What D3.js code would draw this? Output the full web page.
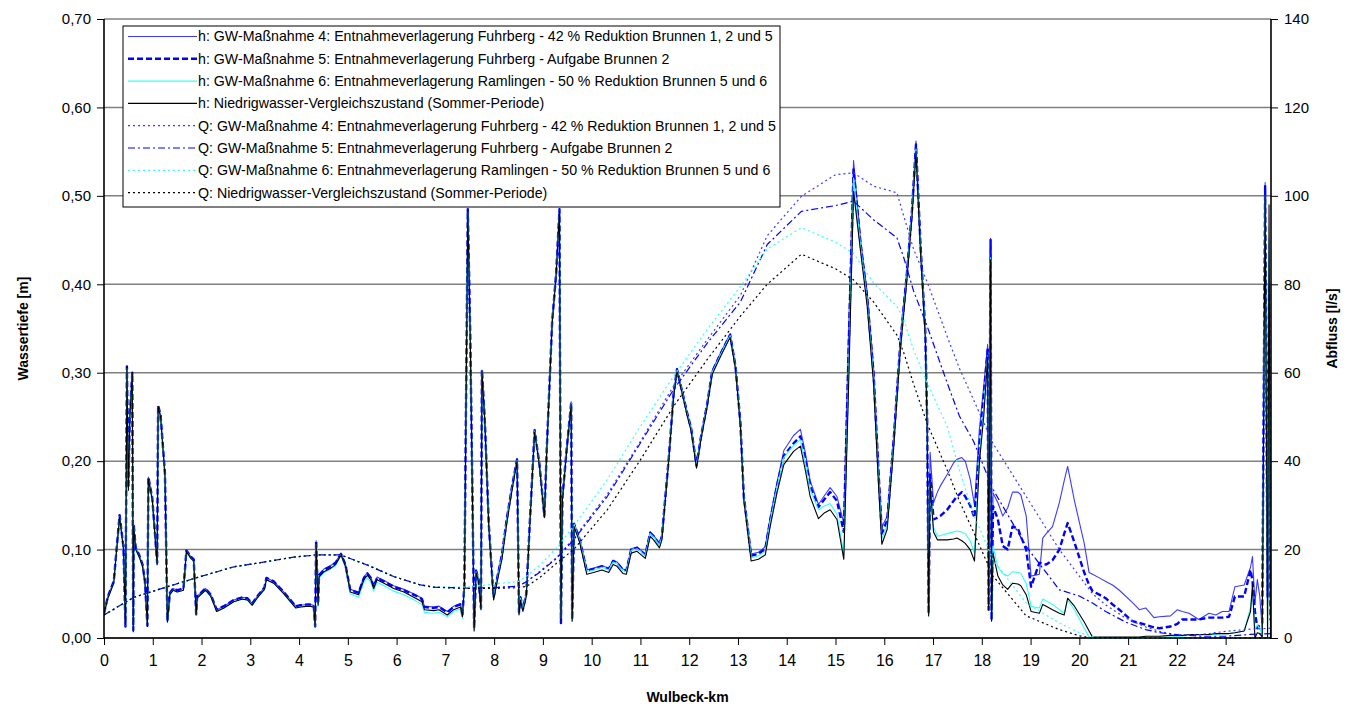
<!DOCTYPE html>
<html>
<head>
<meta charset="utf-8">
<script src="https://cdn.jsdelivr.net/npm/d3@7"></script>
<style>
  body { margin: 0; background: #fff; }
  svg { display: block; font-family: Arial, "Liberation Sans", sans-serif; }
</style>
</head>
<body>
<div id="chart"></div>
<script>
// x tick positions and their labels (the original axis skips "23")
const xTickPos = d3.range(0, 24);
const xTickLabels = ["0","1","2","3","4","5","6","7","8","9","10","11","12","13","14","15","16","17","18","19","20","21","22","24"];
const yTicksLeft = [0, 0.1, 0.2, 0.3, 0.4, 0.5, 0.6, 0.7];
const yTicksRight = [0, 20, 40, 60, 80, 100, 120, 140];

// station positions for water depth series
const hKm = [
  0, 0.08, 0.2, 0.32, 0.4, 0.44, 0.47, 0.5, 0.53, 0.58,
  0.6, 0.61, 0.65, 0.72, 0.79, 0.84, 0.89, 0.91, 0.99, 1.09,
  1.11, 1.16, 1.25, 1.3, 1.35, 1.42, 1.5, 1.63, 1.69, 1.78,
  1.84, 1.89, 1.91, 2.08, 2.19, 2.31, 2.46, 2.66, 2.84, 2.94,
  3.04, 3.14, 3.29, 3.33, 3.48, 3.67, 3.93, 4.03, 4.2, 4.3,
  4.33, 4.35, 4.39, 4.41, 4.51, 4.65, 4.75, 4.86, 4.95, 5.05,
  5.22, 5.33, 5.4, 5.47, 5.53, 5.6, 5.74, 5.94, 6.15, 6.39,
  6.52, 6.57, 6.76, 6.87, 7.04, 7.17, 7.31, 7.35, 7.39, 7.46,
  7.51, 7.56, 7.59, 7.63, 7.68, 7.73, 7.75, 7.81, 7.89, 7.97,
  7.99, 8.07, 8.16, 8.26, 8.37, 8.47, 8.51, 8.54, 8.59, 8.66,
  8.73, 8.83, 8.93, 9.03, 9.08, 9.19, 9.27, 9.34, 9.37, 9.40,
  9.49, 9.58, 9.60, 9.64, 9.75, 9.90, 10.04, 10.21, 10.35, 10.44,
  10.52, 10.64, 10.71, 10.81, 10.93, 11.10, 11.20, 11.27, 11.39, 11.44,
  11.58, 11.68, 11.75, 11.82, 11.96, 12.04, 12.15, 12.24, 12.37, 12.47,
  12.64, 12.84, 12.95, 13.05, 13.12, 13.27, 13.42, 13.56, 13.66, 13.80,
  13.94, 14.14, 14.28, 14.38, 14.48, 14.65, 14.76, 14.89, 15.03, 15.17,
  15.27, 15.37, 15.51, 15.65, 15.78, 15.88, 15.95, 16.06, 16.19, 16.33,
  16.47, 16.57, 16.65, 16.74, 16.84, 16.88, 16.91, 16.94, 17.01, 17.09,
  17.15, 17.29, 17.42, 17.49, 17.59, 17.66, 17.76, 17.85, 17.95, 18.04,
  18.12, 18.14, 18.18, 18.20, 18.23, 18.33, 18.43, 18.53, 18.63, 18.74,
  18.80, 18.91, 19.01, 19.18, 19.25, 19.32, 19.45, 19.59, 19.69, 19.76,
  19.90, 20.10, 20.20, 20.27, 20.41, 20.54, 20.68, 20.82, 21.09, 21.23,
  21.36, 21.53, 21.64, 21.87, 22.01, 22.11, 22.25, 22.45, 22.66, 22.80,
  22.93, 23.07, 23.19, 23.38, 23.51, 23.55, 23.60, 23.65, 23.70, 23.75,
  23.81, 23.86, 23.89, 23.92
];

// h: GW-Massnahme 4
const h4 = [
  0.028, 0.047, 0.064, 0.139, 0.102, 0.016, 0.305, 0.170, 0.252, 0.298,
  0.010, 0.128, 0.102, 0.094, 0.083, 0.064, 0.014, 0.182, 0.158, 0.085,
  0.262, 0.252, 0.186, 0.020, 0.051, 0.056, 0.054, 0.056, 0.099, 0.092,
  0.089, 0.028, 0.047, 0.056, 0.049, 0.032, 0.036, 0.043, 0.046, 0.045,
  0.039, 0.047, 0.057, 0.068, 0.064, 0.053, 0.036, 0.037, 0.038, 0.037,
  0.014, 0.110, 0.039, 0.072, 0.078, 0.082, 0.086, 0.096, 0.084, 0.055,
  0.052, 0.069, 0.074, 0.069, 0.059, 0.069, 0.065, 0.059, 0.055, 0.049,
  0.045, 0.036, 0.035, 0.036, 0.030, 0.036, 0.039, 0.026, 0.061, 0.485,
  0.345, 0.142, 0.012, 0.077, 0.067, 0.035, 0.303, 0.246, 0.130, 0.062,
  0.047, 0.071, 0.095, 0.136, 0.173, 0.203, 0.030, 0.047, 0.034, 0.051,
  0.130, 0.236, 0.197, 0.139, 0.216, 0.359, 0.412, 0.485, 0.025, 0.160,
  0.216, 0.267, 0.022, 0.130, 0.113, 0.077, 0.079, 0.082, 0.079, 0.088,
  0.086, 0.078, 0.077, 0.101, 0.103, 0.095, 0.120, 0.116, 0.107, 0.116,
  0.204, 0.277, 0.305, 0.288, 0.255, 0.238, 0.196, 0.228, 0.266, 0.302,
  0.322, 0.344, 0.308, 0.244, 0.162, 0.095, 0.097, 0.103, 0.136, 0.176,
  0.212, 0.229, 0.236, 0.210, 0.178, 0.151, 0.160, 0.170, 0.160, 0.130,
  0.350, 0.540, 0.452, 0.390, 0.305, 0.195, 0.125, 0.138, 0.226, 0.338,
  0.420, 0.488, 0.562, 0.452, 0.352, 0.250, 0.030, 0.210, 0.153, 0.165,
  0.172, 0.185, 0.198, 0.202, 0.204, 0.200, 0.180, 0.150, 0.236, 0.285,
  0.332, 0.032, 0.452, 0.021, 0.164, 0.153, 0.138, 0.147, 0.165, 0.165,
  0.162, 0.138, 0.070, 0.072, 0.113, 0.118, 0.126, 0.153, 0.178, 0.194,
  0.155, 0.107, 0.074, 0.072, 0.068, 0.064, 0.060, 0.054, 0.040, 0.032,
  0.034, 0.023, 0.024, 0.025, 0.032, 0.030, 0.028, 0.021, 0.028, 0.026,
  0.030, 0.030, 0.058, 0.060, 0.080, 0.092, 0.040, 0.066, 0.047, 0.009,
  0.515, 0.040, 0.300, 0.020
];

// h: GW-Massnahme 5
const h5 = [
  0.028, 0.047, 0.064, 0.139, 0.102, 0.013, 0.307, 0.170, 0.252, 0.300,
  0.009, 0.128, 0.102, 0.094, 0.083, 0.064, 0.014, 0.182, 0.158, 0.085,
  0.263, 0.252, 0.186, 0.019, 0.051, 0.056, 0.054, 0.056, 0.099, 0.092,
  0.089, 0.027, 0.047, 0.056, 0.049, 0.032, 0.036, 0.043, 0.046, 0.045,
  0.039, 0.047, 0.057, 0.068, 0.064, 0.053, 0.036, 0.037, 0.038, 0.037,
  0.013, 0.110, 0.039, 0.071, 0.077, 0.081, 0.085, 0.095, 0.083, 0.054,
  0.051, 0.068, 0.073, 0.068, 0.058, 0.068, 0.064, 0.058, 0.054, 0.048,
  0.044, 0.035, 0.034, 0.035, 0.029, 0.035, 0.038, 0.025, 0.060, 0.485,
  0.344, 0.141, 0.011, 0.076, 0.066, 0.034, 0.303, 0.245, 0.129, 0.061,
  0.046, 0.070, 0.094, 0.135, 0.172, 0.202, 0.029, 0.046, 0.033, 0.050,
  0.129, 0.235, 0.196, 0.138, 0.215, 0.358, 0.411, 0.485, 0.017, 0.159,
  0.215, 0.266, 0.021, 0.129, 0.112, 0.076, 0.078, 0.081, 0.078, 0.087,
  0.085, 0.077, 0.076, 0.100, 0.102, 0.094, 0.119, 0.115, 0.106, 0.115,
  0.203, 0.276, 0.304, 0.287, 0.254, 0.237, 0.195, 0.227, 0.265, 0.301,
  0.321, 0.343, 0.307, 0.243, 0.160, 0.093, 0.095, 0.101, 0.133, 0.172,
  0.206, 0.220, 0.228, 0.203, 0.172, 0.148, 0.156, 0.165, 0.155, 0.120,
  0.330, 0.530, 0.448, 0.385, 0.300, 0.190, 0.118, 0.133, 0.222, 0.334,
  0.416, 0.485, 0.558, 0.448, 0.348, 0.245, 0.028, 0.185, 0.134, 0.136,
  0.138, 0.145, 0.155, 0.160, 0.165, 0.160, 0.150, 0.136, 0.217, 0.275,
  0.326, 0.032, 0.450, 0.020, 0.149, 0.134, 0.104, 0.100, 0.126, 0.124,
  0.115, 0.100, 0.058, 0.085, 0.084, 0.083, 0.088, 0.100, 0.118, 0.130,
  0.108, 0.074, 0.060, 0.053, 0.049, 0.045, 0.038, 0.032, 0.019, 0.017,
  0.015, 0.012, 0.011, 0.013, 0.016, 0.021, 0.021, 0.021, 0.023, 0.023,
  0.023, 0.024, 0.047, 0.047, 0.077, 0.065, 0.030, 0.011, 0.015, 0.017,
  0.511, 0.047, 0.400, 0.020
];

// h: GW-Massnahme 6
const h6 = [
  0.027, 0.045, 0.062, 0.137, 0.100, 0.015, 0.305, 0.167, 0.250, 0.299,
  0.008, 0.126, 0.100, 0.092, 0.081, 0.062, 0.013, 0.180, 0.156, 0.083,
  0.261, 0.250, 0.183, 0.018, 0.049, 0.054, 0.052, 0.054, 0.098, 0.090,
  0.087, 0.026, 0.045, 0.054, 0.047, 0.030, 0.034, 0.041, 0.044, 0.043,
  0.037, 0.045, 0.055, 0.066, 0.062, 0.051, 0.034, 0.035, 0.036, 0.035,
  0.013, 0.106, 0.036, 0.068, 0.074, 0.078, 0.082, 0.093, 0.080, 0.050,
  0.046, 0.063, 0.068, 0.063, 0.053, 0.063, 0.059, 0.053, 0.049, 0.042,
  0.038, 0.029, 0.028, 0.029, 0.024, 0.030, 0.033, 0.022, 0.057, 0.482,
  0.342, 0.140, 0.010, 0.075, 0.065, 0.033, 0.302, 0.244, 0.128, 0.060,
  0.045, 0.068, 0.092, 0.133, 0.170, 0.201, 0.028, 0.045, 0.032, 0.049,
  0.128, 0.234, 0.195, 0.137, 0.214, 0.357, 0.410, 0.483, 0.022, 0.158,
  0.214, 0.265, 0.020, 0.128, 0.111, 0.075, 0.077, 0.080, 0.077, 0.086,
  0.084, 0.076, 0.075, 0.099, 0.101, 0.093, 0.118, 0.114, 0.105, 0.114,
  0.202, 0.275, 0.303, 0.287, 0.253, 0.236, 0.194, 0.226, 0.264, 0.300,
  0.320, 0.342, 0.306, 0.241, 0.159, 0.091, 0.093, 0.098, 0.131, 0.170,
  0.204, 0.218, 0.224, 0.198, 0.168, 0.145, 0.149, 0.152, 0.140, 0.095,
  0.300, 0.520, 0.445, 0.380, 0.294, 0.182, 0.112, 0.128, 0.218, 0.330,
  0.413, 0.482, 0.553, 0.443, 0.345, 0.238, 0.026, 0.175, 0.125, 0.115,
  0.116, 0.118, 0.120, 0.121, 0.120, 0.118, 0.110, 0.096, 0.205, 0.260,
  0.319, 0.032, 0.430, 0.020, 0.104, 0.080, 0.073, 0.070, 0.075, 0.074,
  0.073, 0.062, 0.036, 0.034, 0.044, 0.042, 0.038, 0.032, 0.028, 0.043,
  0.032, 0.011, 0.001, 0.000, 0.000, 0.000, 0.000, 0.000, 0.000, 0.000,
  0.000, 0.000, 0.001, 0.001, 0.002, 0.002, 0.003, 0.003, 0.004, 0.004,
  0.005, 0.005, 0.006, 0.008, 0.035, 0.055, 0.010, 0.015, 0.010, 0.003,
  0.500, 0.000, 0.450, 0.000
];

// h: Niedrigwasser-Vergleichszustand
const h0 = [
  0.027, 0.045, 0.062, 0.137, 0.100, 0.015, 0.307, 0.167, 0.250, 0.300,
  0.007, 0.126, 0.100, 0.092, 0.081, 0.062, 0.013, 0.180, 0.156, 0.083,
  0.262, 0.250, 0.183, 0.018, 0.049, 0.054, 0.052, 0.054, 0.098, 0.090,
  0.087, 0.026, 0.045, 0.054, 0.047, 0.030, 0.034, 0.041, 0.044, 0.043,
  0.037, 0.045, 0.055, 0.066, 0.062, 0.051, 0.034, 0.035, 0.036, 0.035,
  0.013, 0.107, 0.037, 0.069, 0.075, 0.079, 0.083, 0.094, 0.081, 0.052,
  0.049, 0.066, 0.071, 0.066, 0.056, 0.066, 0.062, 0.056, 0.052, 0.045,
  0.041, 0.032, 0.031, 0.032, 0.026, 0.032, 0.035, 0.024, 0.058, 0.483,
  0.341, 0.138, 0.008, 0.074, 0.064, 0.032, 0.302, 0.243, 0.126, 0.058,
  0.043, 0.066, 0.089, 0.130, 0.168, 0.200, 0.026, 0.043, 0.030, 0.047,
  0.126, 0.233, 0.194, 0.136, 0.213, 0.356, 0.409, 0.483, 0.021, 0.156,
  0.213, 0.264, 0.019, 0.126, 0.109, 0.072, 0.074, 0.077, 0.074, 0.083,
  0.081, 0.073, 0.072, 0.096, 0.098, 0.090, 0.115, 0.111, 0.102, 0.111,
  0.200, 0.273, 0.302, 0.285, 0.251, 0.234, 0.192, 0.224, 0.262, 0.298,
  0.318, 0.340, 0.304, 0.239, 0.156, 0.087, 0.089, 0.094, 0.126, 0.164,
  0.196, 0.211, 0.217, 0.190, 0.160, 0.135, 0.141, 0.145, 0.134, 0.089,
  0.288, 0.505, 0.439, 0.375, 0.288, 0.175, 0.106, 0.123, 0.213, 0.326,
  0.409, 0.477, 0.550, 0.439, 0.341, 0.232, 0.025, 0.175, 0.120, 0.111,
  0.111, 0.111, 0.112, 0.113, 0.110, 0.107, 0.100, 0.087, 0.198, 0.251,
  0.318, 0.032, 0.428, 0.019, 0.096, 0.070, 0.060, 0.055, 0.062, 0.061,
  0.059, 0.049, 0.030, 0.028, 0.038, 0.036, 0.032, 0.028, 0.026, 0.045,
  0.036, 0.018, 0.008, 0.001, 0.001, 0.001, 0.001, 0.001, 0.001, 0.001,
  0.002, 0.002, 0.002, 0.003, 0.003, 0.003, 0.004, 0.004, 0.004, 0.005,
  0.005, 0.005, 0.006, 0.008, 0.030, 0.060, 0.000, 0.006, 0.005, 0.001,
  0.500, 0.000, 0.490, 0.000
];

// station positions for discharge series
const qKm = [
  0, 0.61, 1.3, 1.98, 2.66, 3.35, 3.89, 4.37, 4.85, 5.4,
  5.94, 6.49, 6.76, 7.44, 8.0, 8.5, 8.67, 8.95, 9.29, 9.63,
  10.32, 11.0, 11.68, 12.37, 13.05, 13.6, 14.3, 15.0, 15.37, 15.78,
  16.26, 16.4, 16.6, 16.88, 17.29, 17.54, 17.83, 18.23, 18.91, 19.59,
  20.0, 20.27, 20.54, 20.95, 21.36, 21.64, 22.04, 22.5, 23.0, 23.5, 23.93
];

const q4 = [
  5.2, 9.2, 11.6, 13.9, 16.1, 17.3, 18.3, 18.8, 18.8, 16.5,
  13.9, 12.0, 11.5, 11.3, 11.4, 11.7, 12.8, 15.2, 18.3, 22.5,
  32.5, 44.5, 57.0, 67.5, 77.5, 91.0, 99.9, 104.8, 105.2, 102.2,
  100.7, 95.4, 88.0, 80.5, 68.2, 61.0, 53.9, 44.0, 32.0, 20.0,
  14.0, 10.0, 7.5, 4.5, 2.5, 1.5, 0.6, 0.8, 1.5, 2.0, 2.2
];

const q5 = [
  5.2, 9.2, 11.6, 13.9, 16.1, 17.3, 18.3, 18.8, 18.8, 16.5,
  13.9, 12.0, 11.5, 11.3, 11.4, 11.7, 12.8, 15.0, 18.1, 22.2,
  32.0, 44.1, 56.2, 66.7, 76.0, 89.0, 96.5, 97.8, 98.8, 94.6,
  90.5, 86.0, 78.5, 70.5, 57.7, 50.2, 44.5, 33.6, 20.7, 10.9,
  9.5, 7.9, 6.0, 3.6, 1.9, 1.2, 0.7, 0.4, 0.4, 0.8, 1.0
];

const q6 = [
  5.2, 9.2, 11.6, 13.9, 16.1, 17.3, 18.3, 18.8, 18.8, 16.5,
  13.9, 12.0, 11.6, 11.5, 12.2, 12.8, 14.0, 16.6, 20.5, 25.3,
  35.8, 47.9, 59.2, 69.8, 79.5, 88.0, 92.8, 89.5, 87.0, 80.3,
  75.0, 72.0, 65.2, 57.7, 47.9, 38.0, 28.0, 17.7, 7.9, 3.4,
  1.2, 0.3, 0, 0, 0, 0, 0, 0, 0, 0, 0
];

const q0 = [
  5.2, 9.2, 11.6, 13.9, 16.1, 17.3, 18.3, 18.8, 18.8, 16.5,
  13.9, 12.0, 11.5, 11.2, 11.2, 11.4, 11.7, 13.8, 17.0, 20.0,
  29.0, 40.3, 52.4, 63.0, 72.8, 80.0, 86.8, 83.5, 81.0, 76.0,
  68.5, 64.5, 57.5, 48.5, 38.0, 31.0, 24.0, 14.0, 5.0, 1.9,
  0.5, 0, 0, 0, 0, 0, 0, 0, 0, 0, 0
];

const legendLabels = [
  "h: GW-Maßnahme 4: Entnahmeverlagerung Fuhrberg - 42 % Reduktion Brunnen 1, 2 und 5",
  "h: GW-Maßnahme 5: Entnahmeverlagerung Fuhrberg - Aufgabe Brunnen 2",
  "h: GW-Maßnahme 6: Entnahmeverlagerung Ramlingen - 50 % Reduktion Brunnen 5 und 6",
  "h: Niedrigwasser-Vergleichszustand (Sommer-Periode)",
  "Q: GW-Maßnahme 4: Entnahmeverlagerung Fuhrberg - 42 % Reduktion Brunnen 1, 2 und 5",
  "Q: GW-Maßnahme 5: Entnahmeverlagerung Fuhrberg - Aufgabe Brunnen 2",
  "Q: GW-Maßnahme 6: Entnahmeverlagerung Ramlingen - 50 % Reduktion Brunnen 5 und 6",
  "Q: Niedrigwasser-Vergleichszustand (Sommer-Periode)"
];

function drawChart() {
    const totalW = 1350, totalH = 708;
    const margin = {top: 19, right: 79, bottom: 70, left: 104};
    const width = totalW - margin.left - margin.right;
    const height = totalH - margin.top - margin.bottom;

    const svg = d3.select("#chart")
        .append("svg")
        .attr("width", totalW)
        .attr("height", totalH);

    const g = svg.append("g")
        .attr("transform", `translate(${margin.left},${margin.top})`);

    // Scales
    const x = d3.scaleLinear().domain([0, 23.93]).range([0, width]);
    const yH = d3.scaleLinear().domain([0, 0.7]).range([height, 0]);
    const yQ = d3.scaleLinear().domain([0, 140]).range([height, 0]);

    const de = d3.formatLocale({decimal: ",", thousands: ".", grouping: [3], currency: ["", " €"]});

    // Horizontal grid lines
    g.append("g")
        .selectAll("line")
        .data(yTicksLeft)
        .join("line")
        .attr("x1", 0)
        .attr("x2", width)
        .attr("y1", d => yH(d))
        .attr("y2", d => yH(d))
        .attr("stroke", "#808080")
        .attr("stroke-width", 1.5);

    // Clip for the data lines
    svg.append("defs").append("clipPath")
        .attr("id", "plot-clip")
        .append("rect")
        .attr("width", width)
        .attr("height", height + 1);

    const plot = g.append("g").attr("clip-path", "url(#plot-clip)");

    const lineH = d3.line().x((d, i) => x(hKm[i])).y(d => yH(d));
    const lineQ = d3.line().x((d, i) => x(qKm[i])).y(d => yQ(d));

    const series = [
        {values: h4, gen: lineH, color: "#3b3bff", width: 1.1, dash: null},
        {values: h5, gen: lineH, color: "#0000ff", width: 2.4, dash: "6,3"},
        {values: h6, gen: lineH, color: "#33ffff", width: 1.1, dash: null},
        {values: h0, gen: lineH, color: "#000000", width: 1.1, dash: null},
        {values: q4, gen: lineQ, color: "#3b3bff", width: 1.2, dash: "2,3"},
        {values: q5, gen: lineQ, color: "#0000ff", width: 1.2, dash: "7,3,2,3"},
        {values: q6, gen: lineQ, color: "#33ffff", width: 1.2, dash: "2,3"},
        {values: q0, gen: lineQ, color: "#000000", width: 1.2, dash: "2,3"}
    ];

    series.forEach(s => {
        plot.append("path")
            .datum(s.values)
            .attr("fill", "none")
            .attr("stroke", s.color)
            .attr("stroke-width", s.width)
            .attr("stroke-dasharray", s.dash)
            .attr("stroke-linejoin", "round")
            .attr("d", s.gen);
    });

    // Left axis
    const yAxisL = g.append("g")
        .call(d3.axisLeft(yH)
            .tickValues(yTicksLeft)
            .tickSize(7)
            .tickPadding(6)
            .tickFormat(de.format(".2f")));

    // Right axis
    const yAxisR = g.append("g")
        .attr("transform", `translate(${width},0)`)
        .call(d3.axisRight(yQ)
            .tickValues(yTicksRight)
            .tickSize(7)
            .tickPadding(6));

    // Bottom axis
    const xAxis = g.append("g")
        .attr("transform", `translate(0,${height})`)
        .call(d3.axisBottom(x)
            .tickValues(xTickPos)
            .tickSize(7)
            .tickPadding(10)
            .tickFormat((d, i) => xTickLabels[i]));

    [yAxisL, yAxisR, xAxis].forEach(ax => {
        ax.select(".domain").attr("stroke", "#000").attr("stroke-width", 1.6);
        ax.selectAll(".tick line").attr("stroke", "#000").attr("stroke-width", 1);
        ax.selectAll("text")
            .attr("fill", "#000")
            .style("font-size", "15px")
            .style("font-family", "Arial, 'Liberation Sans', sans-serif");
    });
    xAxis.selectAll("text").style("font-size", "16px");
    xAxis.select(".domain").attr("d", `M0,0H${width}`);
    yAxisL.select(".domain").attr("d", `M0,${height}V0`);
    yAxisR.select(".domain").attr("d", `M0,${height}V0`);

    // Axis titles
    g.append("text")
        .attr("transform", "rotate(-90)")
        .attr("x", -height / 2)
        .attr("y", -margin.left + 28)
        .attr("text-anchor", "middle")
        .style("font-size", "14px")
        .style("font-weight", "bold")
        .text("Wassertiefe [m]");

    g.append("text")
        .attr("transform", "rotate(-90)")
        .attr("x", -height / 2)
        .attr("y", width + 66)
        .attr("text-anchor", "middle")
        .style("font-size", "14px")
        .style("font-weight", "bold")
        .text("Abfluss [l/s]");

    g.append("text")
        .attr("x", width / 2)
        .attr("y", height + 64)
        .attr("text-anchor", "middle")
        .style("font-size", "14px")
        .style("font-weight", "bold")
        .text("Wulbeck-km");

    // Legend
    const legend = svg.append("g")
        .attr("transform", "translate(123,26)");

    legend.append("rect")
        .attr("width", 657)
        .attr("height", 181)
        .attr("fill", "#fff")
        .attr("stroke", "#000")
        .attr("stroke-width", 1);

    const rows = legend.selectAll(".row")
        .data(series)
        .join("g")
        .attr("class", "row")
        .attr("transform", (d, i) => `translate(0,${10.5 + i * 22.3})`);

    rows.append("line")
        .attr("x1", 5)
        .attr("x2", 74)
        .attr("stroke", d => d.color)
        .attr("stroke-width", d => d.width)
        .attr("stroke-dasharray", d => d.dash);

    rows.append("text")
        .attr("x", 75)
        .attr("dy", "0.35em")
        .style("font-size", "14.2px")
        .text((d, i) => legendLabels[i]);
}

drawChart();
</script>
</body>
</html>
